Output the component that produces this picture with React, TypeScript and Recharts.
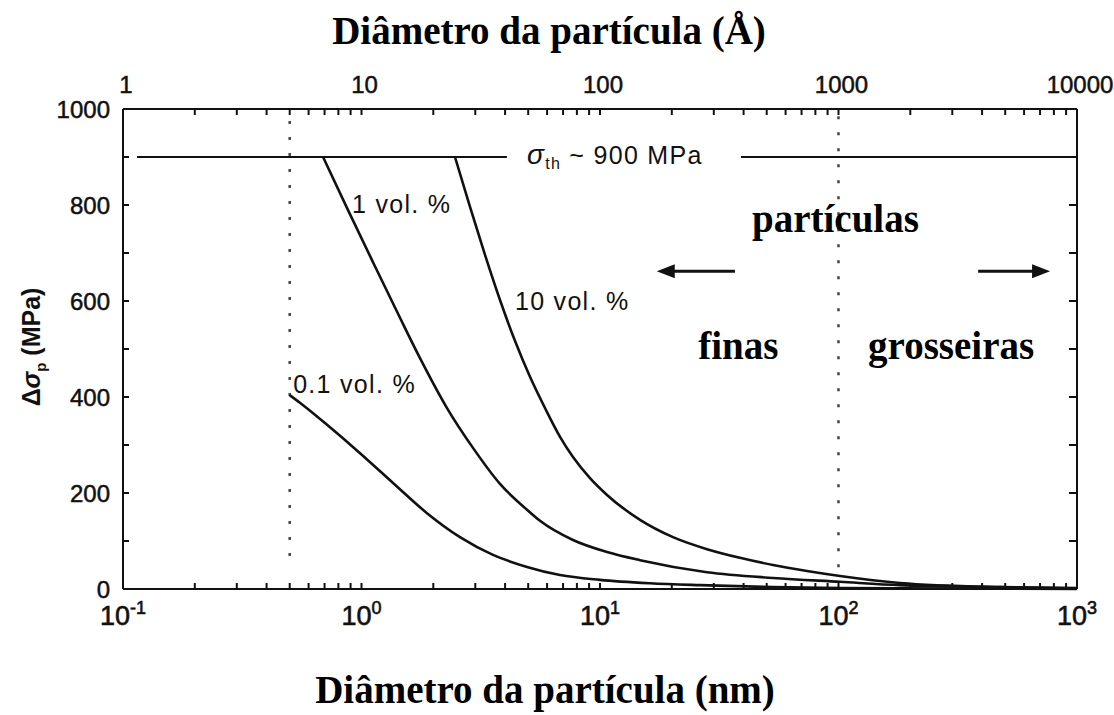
import { LineChart, Line, XAxis, YAxis, ReferenceLine, ReferenceDot, Label } from "recharts"

const SANS = "'Liberation Sans', Arial, sans-serif"
const SERIF = "'Liberation Serif', 'Times New Roman', serif"
const INK = "#111"

// Orowan stress increment (MPa) against particle diameter (nm)
const diam01 = [0.5, 0.552, 0.717, 0.986, 1.356, 1.882, 2.588, 3.559, 4.943, 6.798, 10, 16.2, 26.3, 53.1, 101.5, 475, 1000]
const stress01 = [404, 388, 342, 283, 221, 158, 108, 71, 46, 29, 19, 12, 8, 4, 2, 0.5, 0]

const diam1 = [0.69, 0.869, 1.117, 1.45, 1.759, 2.283, 2.934, 3.808, 4.943, 5.603, 7.705, 10.7, 14.72, 28.09, 53.13, 101.5, 181, 475, 1000]
const stress1 = [900, 794, 681, 565, 481, 377, 294, 219, 165, 142, 102, 77, 60, 35, 23, 15, 8, 4, 1]

const diam10 = [2.466, 2.851, 3.295, 3.808, 4.4, 5.087, 5.88, 6.798, 7.705, 9.08, 10.7, 14.72, 20.23, 28.09, 38.6, 53.13, 73.8, 101.5, 181, 475, 1000]
const stress10 = [900, 796, 696, 602, 517, 442, 377, 317, 275, 231, 196, 144, 108, 83, 65, 50, 37.5, 27, 12.5, 4, 2]

// theoretical strength line, broken where its label sits
const thresholdStress = 900
const thresholdLeft = [0.1145, 4.07]
const thresholdRight = [39, 1000]

// dotted limits between fine and coarse particles
const fineLimit = 0.5
const coarseLimit = 100

const arrowStress = 662
const leftArrow = [36.8, 17.3]
const rightArrow = [385, 771]

const diamTicks = [
  0.1, 0.2, 0.3, 0.4, 0.5, 0.6, 0.7, 0.8, 0.9,
  1, 2, 3, 4, 5, 6, 7, 8, 9,
  10, 20, 30, 40, 50, 60, 70, 80, 90,
  100, 200, 300, 400, 500, 600, 700, 800, 900, 1000,
]
const stressTicks = [0, 100, 200, 300, 400, 500, 600, 700, 800, 900, 1000]

const toPts = (d: number[], s: number[]) => d.map((v, i) => ({ d: v, s: s[i] }))
const flat = (d: number[], s: number) => d.map((v) => ({ d: v, s }))

const isDecade = (v: number) => Math.abs(Math.log10(v) - Math.round(Math.log10(v))) < 1e-6

type Note = { d: number; s: number; text: React.ReactNode; serif?: boolean }

const notes: Note[] = [
  { d: 0.912, s: 783, text: "1 vol. %" },
  { d: 0.517, s: 408, text: "0.1 vol. %" },
  { d: 4.4, s: 581, text: "10 vol. %" },
  {
    d: 4.94,
    s: 885,
    text: (
      <>
        <tspan fontStyle="italic" fontSize={28}>σ</tspan>
        <tspan fontSize={16} dy={5}>th</tspan>
        <tspan dy={-5}> ~ 900 MPa</tspan>
      </>
    ),
  },
  { d: 43.4, s: 744, text: "partículas", serif: true },
  { d: 25.8, s: 479, text: "finas", serif: true },
  { d: 133, s: 479, text: "grosseiras", serif: true },
]

function BottomTick({ x, y, payload }: any) {
  const v = payload.value
  if (!isDecade(v)) return <g />
  const e = Math.round(Math.log10(v))
  return (
    <text x={x} y={y} dy={22} textAnchor="middle" fontFamily={SANS} fontSize={27} fill={INK} stroke={INK} strokeWidth={0.6}>
      10
      <tspan dy={-11} fontSize={18}>{e < 0 ? `-${-e}` : e}</tspan>
    </text>
  )
}

function TopTick({ x, y, payload }: any) {
  const v = payload.value
  if (!isDecade(v)) return <g />
  // top scale in ångström
  return (
    <text x={x + 3} y={y} textAnchor="middle" fontFamily={SANS} fontSize={24} fill={INK} stroke={INK} strokeWidth={0.5}>
      {Math.round(v * 10)}
    </text>
  )
}

const arrowHead = (dir: number) => (p: any) => (
  <path d={`M${p.cx},${p.cy} l${-dir * 18},-7 l0,14 z`} fill={INK} />
)

const curve = { type: "monotone" as const, stroke: INK, strokeWidth: 2.6, dot: false, isAnimationActive: false }

export default function App() {
  const W = 1114
  const H = 715
  return (
    <div style={{ position: "absolute", left: 0, top: 0, width: W, height: H, background: "#fff" }}>
      <LineChart width={W} height={H} margin={{ top: 0, right: 0, bottom: 0, left: 0 }}>
        <XAxis
          xAxisId="nm"
          type="number"
          dataKey="d"
          scale="log"
          domain={[0.1, 1000]}
          allowDataOverflow
          ticks={diamTicks}
          interval={0}
          orientation="bottom"
          height={126}
          tickSize={-6}
          tickMargin={20}
          tick={<BottomTick />}
          stroke={INK}
          strokeWidth={2}
        >
          <Label
            content={({ viewBox }: any) => (
              <text
                x={viewBox.x + viewBox.width / 2 - 55}
                y={viewBox.y + 114}
                textAnchor="middle"
                fontFamily={SERIF}
                fontWeight="bold"
                fontSize={39}
                fill="#000"
              >
                Diâmetro da partícula (nm)
              </text>
            )}
          />
        </XAxis>
        <XAxis
          xAxisId="A"
          type="number"
          dataKey="d"
          scale="log"
          domain={[0.1, 1000]}
          allowDataOverflow
          ticks={diamTicks}
          interval={0}
          orientation="top"
          height={109}
          tickSize={-6}
          tickMargin={22}
          tick={<TopTick />}
          stroke={INK}
          strokeWidth={2}
        >
          <Label
            content={({ viewBox }: any) => (
              <text
                x={viewBox.x + viewBox.width / 2 - 51}
                y={44}
                textAnchor="middle"
                fontFamily={SERIF}
                fontWeight="bold"
                fontSize={39}
                fill="#000"
              >
                Diâmetro da partícula (Å)
              </text>
            )}
          />
        </XAxis>
        <YAxis
          yAxisId="l"
          type="number"
          domain={[0, 1000]}
          ticks={stressTicks}
          interval={0}
          width={123}
          tickSize={-6}
          tickMargin={19}
          tickFormatter={(v: number) => (v % 200 === 0 ? String(v) : "")}
          tick={{ fontSize: 24, fill: INK, fontFamily: SANS, stroke: INK, strokeWidth: 0.5 }}
          stroke={INK}
          strokeWidth={2}
        >
          <Label
            content={({ viewBox }: any) => {
              const cx = viewBox.x + 32
              const cy = viewBox.y + viewBox.height / 2 - 2
              return (
                <text
                  transform={`rotate(-90 ${cx} ${cy})`}
                  x={cx}
                  y={cy}
                  dy={8}
                  textAnchor="middle"
                  fontFamily={SANS}
                  fontWeight="bold"
                  fontSize={25}
                  fill={INK}
                >
                  Δ<tspan fontStyle="italic">σ</tspan>
                  <tspan fontSize={15} dy={6}>p</tspan>
                  <tspan dy={-6}> (MPa)</tspan>
                </text>
              )
            }}
          />
        </YAxis>
        <YAxis
          yAxisId="r"
          orientation="right"
          type="number"
          domain={[0, 1000]}
          ticks={stressTicks}
          interval={0}
          width={37}
          tickSize={-8}
          tickFormatter={() => ""}
          stroke={INK}
          strokeWidth={2}
        />

        <ReferenceLine
          xAxisId="nm"
          yAxisId="l"
          segment={[{ x: fineLimit, y: 975 }, { x: fineLimit, y: 45 }]}
          stroke="#444"
          strokeWidth={2.5}
          strokeDasharray="3 13"
        />
        <ReferenceLine
          xAxisId="nm"
          yAxisId="l"
          segment={[{ x: coarseLimit, y: 985 }, { x: coarseLimit, y: 45 }]}
          stroke="#444"
          strokeWidth={2.5}
          strokeDasharray="3 13"
        />

        <Line xAxisId="nm" yAxisId="l" data={flat(thresholdLeft, thresholdStress)} dataKey="s" stroke={INK} strokeWidth={2} dot={false} isAnimationActive={false} />
        <Line xAxisId="A" yAxisId="r" data={flat(thresholdRight, thresholdStress)} dataKey="s" stroke={INK} strokeWidth={2} dot={false} isAnimationActive={false} />
        <Line xAxisId="nm" yAxisId="l" data={toPts(diam01, stress01)} dataKey="s" {...curve} />
        <Line xAxisId="nm" yAxisId="l" data={toPts(diam1, stress1)} dataKey="s" {...curve} />
        <Line xAxisId="nm" yAxisId="l" data={toPts(diam10, stress10)} dataKey="s" {...curve} />

        <ReferenceLine
          xAxisId="nm"
          yAxisId="l"
          segment={[{ x: leftArrow[0], y: arrowStress }, { x: leftArrow[1] * 1.1, y: arrowStress }]}
          stroke={INK}
          strokeWidth={3}
        />
        <ReferenceDot xAxisId="nm" yAxisId="l" x={leftArrow[1]} y={arrowStress} r={1} shape={arrowHead(-1)} />
        <ReferenceLine
          xAxisId="nm"
          yAxisId="l"
          segment={[{ x: rightArrow[0], y: arrowStress }, { x: rightArrow[1] / 1.1, y: arrowStress }]}
          stroke={INK}
          strokeWidth={3}
        />
        <ReferenceDot xAxisId="nm" yAxisId="l" x={rightArrow[1]} y={arrowStress} r={1} shape={arrowHead(1)} />

        {notes.map((n, i) => (
          <ReferenceDot
            key={i}
            xAxisId="nm"
            yAxisId="l"
            x={n.d}
            y={n.s}
            r={1}
            shape={(p: any) => (
              <text
                x={p.cx}
                y={p.cy}
                fontFamily={n.serif ? SERIF : SANS}
                fontWeight={n.serif ? "bold" : "normal"}
                fontSize={n.serif ? 39 : 25}
                letterSpacing={n.serif ? 0 : 1.3}
                fill={n.serif ? "#000" : INK}
              >
                {n.text}
              </text>
            )}
          />
        ))}
      </LineChart>
    </div>
  )
}
